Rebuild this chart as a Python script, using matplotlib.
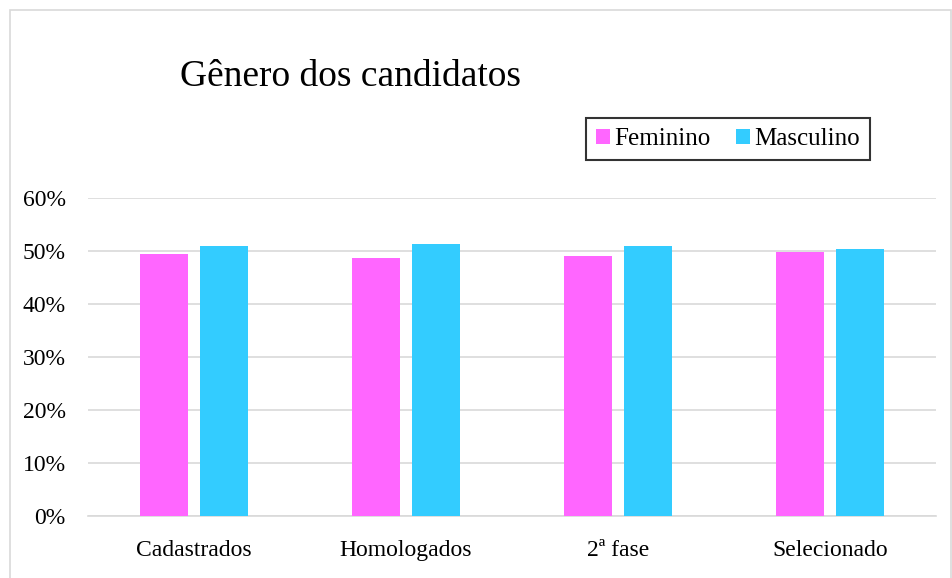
import numpy as np
import matplotlib
matplotlib.use("Agg")
import matplotlib.pyplot as plt
from matplotlib.patches import Rectangle
from matplotlib.ticker import PercentFormatter

categories = ["Cadastrados", "Homologados", "2ª fase", "Selecionado"]
feminino = [0.494, 0.486, 0.490, 0.498]
masculino = [0.509, 0.513, 0.509, 0.504]
yticks = [0, 0.1, 0.2, 0.3, 0.4, 0.5, 0.6]

plt.rcParams["font.family"] = ["Liberation Serif", "DejaVu Serif"]

W, H = 952, 578
fig = plt.figure(figsize=(W / 100, H / 100), dpi=100)
fig.patches.append(Rectangle((10 / W, -0.01), (W - 11) / W, 1 - 10 / H + 0.01,
                             transform=fig.transFigure, fill=False,
                             edgecolor="#d9d9d9", linewidth=1.2))

ax = fig.add_axes([88 / W, 1 - 516 / H, (936 - 88) / W, (516 - 198) / H])
x = np.arange(len(categories))
bw = 0.227
gap = 0.056
ax.bar(x - (bw + gap) / 2, feminino, bw, color="#ff66ff", label="Feminino", zorder=3)
ax.bar(x + (bw + gap) / 2, masculino, bw, color="#33ccff", label="Masculino", zorder=3)

ax.set_xlim(-0.5, len(categories) - 0.5)
ax.set_ylim(0, 0.6)
ax.set_yticks(yticks)
ax.yaxis.set_major_formatter(PercentFormatter(1.0, decimals=0))
ax.set_xticks(x)
ax.set_xticklabels(categories)
ax.grid(axis="y", color="#d9d9d9", linewidth=1.2, zorder=0)
for s in ["top", "right", "left"]:
    ax.spines[s].set_visible(False)
ax.spines["bottom"].set_color("#d9d9d9")
ax.spines["bottom"].set_linewidth(1.2)
ax.tick_params(axis="y", length=0, pad=16, labelsize=17)
ax.tick_params(axis="x", length=0, pad=17, labelsize=17)

fig.text(180 / W, 1 - 77 / H, "Gênero dos candidatos", fontsize=27, va="center", ha="left")

leg = ax.legend(loc="center", bbox_to_anchor=((728 - 88) / (936 - 88), (516 - 139) / (516 - 198)),
                bbox_transform=ax.transAxes, ncol=2, fontsize=18, frameon=True,
                fancybox=False, edgecolor="black", handlelength=0.55, handleheight=0.55,
                handletextpad=0.2, columnspacing=1.0, borderpad=0.4)
leg.get_frame().set_linewidth(1.5)

fig.savefig("out.png", dpi=100)
